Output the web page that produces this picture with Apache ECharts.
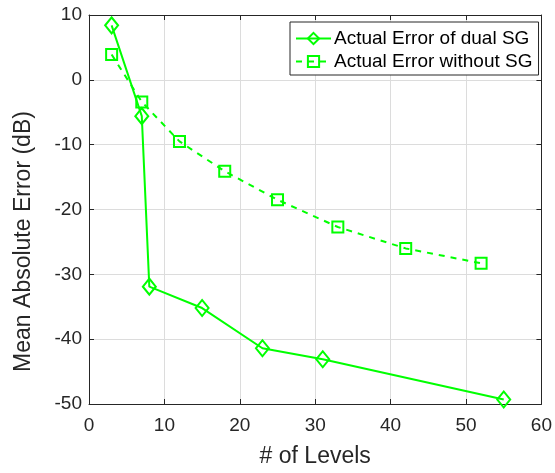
<!DOCTYPE html>
<html>
<head>
<meta charset="utf-8">
<script src="https://cdn.jsdelivr.net/npm/echarts@6/dist/echarts.min.js"></script>
<style>
  html, body { margin: 0; padding: 0; background: #fff; }
  #chart { width: 555px; height: 473px; }
</style>
</head>
<body>
<div id="chart"></div>
<script>
// data
var dualX = [3, 7, 8, 15, 23, 31, 55];
var dualY = [8.4, -5.6, -31.9, -35.2, -41.4, -43.1, -49.3];
var noSgX = [3, 7, 12, 18, 25, 33, 42, 52];
var noSgY = [3.9, -3.4, -9.5, -14.1, -18.5, -22.7, -26.0, -28.3];
var seriesNames = ['Actual Error of dual SG', 'Actual Error without SG'];

var green = '#00ff00';
var dark = '#262626';
var font = 'Liberation Sans, Arial, sans-serif';

function pairs(xs, ys) {
    return xs.map(function (x, i) { return [x, ys[i]]; });
}

var myChart = echarts.init(document.getElementById('chart'));

var baseX = {
    type: 'value', min: 0, max: 60, interval: 10,
    axisLine: { show: true, onZero: false, lineStyle: { color: dark, width: 1 } },
    axisTick: { show: true, inside: true, length: 5, lineStyle: { color: dark } },
    splitLine: { show: true, lineStyle: { color: '#dcdcdc', width: 1 } }
};
var baseY = {
    type: 'value', min: -50, max: 10, interval: 10,
    axisLine: { show: true, onZero: false, lineStyle: { color: dark, width: 1 } },
    axisTick: { show: true, inside: true, length: 5, lineStyle: { color: dark } },
    splitLine: { show: true, lineStyle: { color: '#dcdcdc', width: 1 } }
};

var option = {
    animation: false,
    backgroundColor: '#fff',
    grid: { left: 89, right: 12, top: 15, bottom: 68 },
    legend: {
        data: seriesNames,
        orient: 'vertical',
        left: 290, top: 22,
        padding: [7, 6, 4, 5],
        itemGap: 4,
        itemWidth: 35, itemHeight: 14,
        borderColor: dark, borderWidth: 1,
        backgroundColor: '#fff',
        textStyle: { color: '#000', fontSize: 19, fontFamily: font, padding: [0, 0, 0, -2] }
    },
    xAxis: [
        Object.assign({}, baseX, {
            position: 'bottom',
            name: '# of Levels', nameLocation: 'middle', nameGap: 41,
            nameTextStyle: { color: dark, fontSize: 23, fontFamily: font },
            axisLabel: { color: dark, fontSize: 19, fontFamily: font, margin: 12 }
        }),
        Object.assign({}, baseX, {
            position: 'top',
            axisLabel: { show: false },
            splitLine: { show: false }
        })
    ],
    yAxis: [
        Object.assign({}, baseY, {
            position: 'left',
            name: 'Mean Absolute Error (dB)', nameLocation: 'middle', nameGap: 54,
            nameTextStyle: { color: dark, fontSize: 23, fontFamily: font, padding: [0, 64, 0, 0] },
            axisLabel: { color: dark, fontSize: 19, fontFamily: font, margin: 7 }
        }),
        Object.assign({}, baseY, {
            position: 'right',
            axisLabel: { show: false },
            splitLine: { show: false }
        })
    ],
    series: [
        {
            name: seriesNames[0],
            type: 'line',
            data: pairs(dualX, dualY),
            symbol: 'diamond',
            symbolSize: [13, 16],
            showAllSymbol: true,
            lineStyle: { color: green, width: 2 },
            itemStyle: { color: 'rgba(255,255,255,0)', borderColor: green, borderWidth: 2 }
        },
        {
            name: seriesNames[1],
            type: 'line',
            data: pairs(noSgX, noSgY),
            symbol: 'rect',
            symbolSize: 11,
            showAllSymbol: true,
            lineStyle: { color: green, width: 2, type: [6, 6] },
            itemStyle: { color: 'rgba(255,255,255,0)', borderColor: green, borderWidth: 2 }
        }
    ]
};
myChart.setOption(option);
</script>
</body>
</html>
